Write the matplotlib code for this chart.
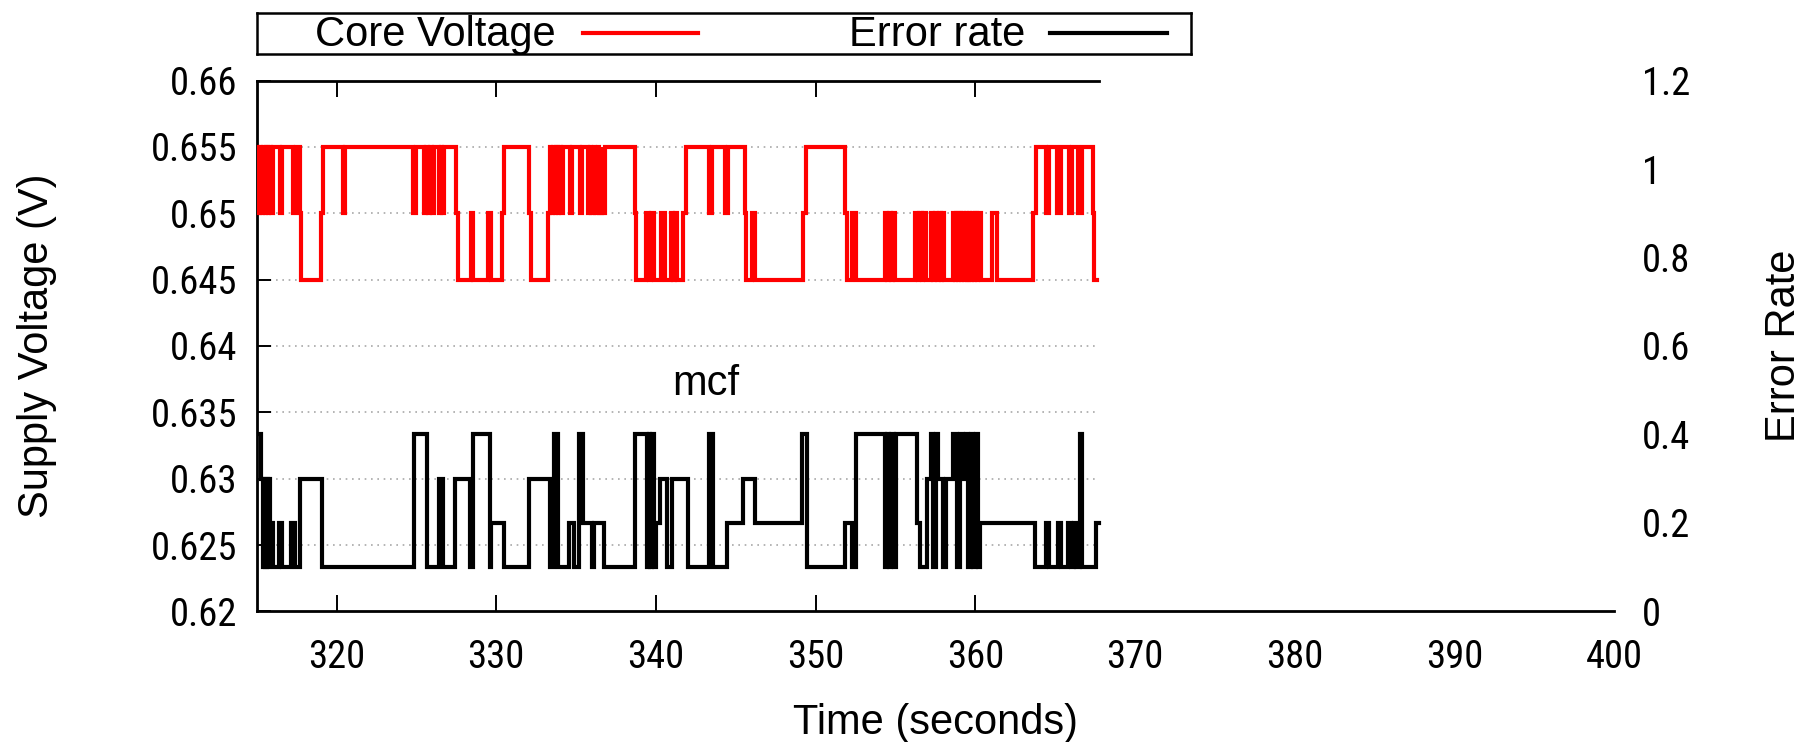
import matplotlib
matplotlib.use("Agg")
import matplotlib.pyplot as plt
from matplotlib import font_manager as fm

# ---------------- data ----------------
volt_t = [315.0, 315.1, 315.2, 315.3, 315.4, 315.5, 315.6, 315.7, 315.8, 315.9,
          316.0, 316.45, 316.6, 317.25, 317.45, 317.7, 317.8, 319.0, 319.15, 320.4,
          320.55, 324.8, 324.95, 325.45, 325.6, 325.7, 325.85, 325.95, 326.1, 326.4,
          326.55, 326.6, 326.7, 327.5, 327.6, 328.4, 328.55, 329.5, 329.65, 330.35,
          330.5, 332.05, 332.15, 333.25, 333.35, 333.45, 333.55, 333.65, 333.75, 333.85,
          333.95, 334.05, 334.2, 334.6, 334.75, 335.25, 335.4, 335.75, 335.85, 335.95,
          336.1, 336.2, 336.35, 336.45, 336.6, 336.65, 336.8, 338.7, 338.75, 339.4,
          339.55, 339.7, 339.9, 340.3, 340.55, 340.95, 341.1, 341.2, 341.35, 341.7,
          341.9, 343.3, 343.5, 344.35, 344.5, 345.55, 345.65, 346.0, 346.2, 349.2,
          349.4, 351.85, 351.95, 352.3, 352.55, 354.35, 354.5, 354.6, 354.75, 354.85,
          355.0, 356.25, 356.4, 356.5, 356.65, 356.75, 356.9, 357.2, 357.35, 357.45,
          357.6, 357.7, 357.85, 357.9, 358.05, 358.6, 358.7, 358.8, 358.9, 359.0,
          359.1, 359.2, 359.3, 359.4, 359.5, 359.6, 359.7, 359.8, 359.9, 360.0,
          360.1, 360.2, 360.35, 361.05, 361.35, 363.6, 363.8, 364.4, 364.6, 365.15,
          365.4, 365.85, 366.05, 366.45, 366.7, 367.35, 367.45, 367.65]
volt_v = [0.655, 0.65, 0.655, 0.65, 0.655, 0.65, 0.655, 0.65, 0.655, 0.65,
          0.655, 0.65, 0.655, 0.65, 0.655, 0.65, 0.645, 0.65, 0.655, 0.65,
          0.655, 0.65, 0.655, 0.65, 0.655, 0.65, 0.655, 0.65, 0.655, 0.65,
          0.655, 0.65, 0.655, 0.65, 0.645, 0.65, 0.645, 0.65, 0.645, 0.65,
          0.655, 0.65, 0.645, 0.65, 0.655, 0.65, 0.655, 0.65, 0.655, 0.65,
          0.655, 0.65, 0.655, 0.65, 0.655, 0.65, 0.655, 0.65, 0.655, 0.65,
          0.655, 0.65, 0.655, 0.65, 0.655, 0.65, 0.655, 0.65, 0.645, 0.65,
          0.645, 0.65, 0.645, 0.65, 0.645, 0.65, 0.645, 0.65, 0.645, 0.65,
          0.655, 0.65, 0.655, 0.65, 0.655, 0.65, 0.645, 0.65, 0.645, 0.65,
          0.655, 0.65, 0.645, 0.65, 0.645, 0.65, 0.645, 0.65, 0.645, 0.65,
          0.645, 0.65, 0.645, 0.65, 0.645, 0.65, 0.645, 0.65, 0.645, 0.65,
          0.645, 0.65, 0.645, 0.65, 0.645, 0.65, 0.645, 0.65, 0.645, 0.65,
          0.645, 0.65, 0.645, 0.65, 0.645, 0.65, 0.645, 0.65, 0.645, 0.65,
          0.645, 0.65, 0.645, 0.65, 0.645, 0.65, 0.655, 0.65, 0.655, 0.65,
          0.655, 0.65, 0.655, 0.65, 0.655, 0.65, 0.645, 0.645]

err_t = [315.0, 315.3, 315.38, 315.46, 315.54, 315.62, 315.7, 315.78, 315.86, 316.05,
         316.4, 316.58, 317.15, 317.4, 317.73, 319.09, 324.83, 325.67, 326.42, 326.68,
         327.43, 328.37, 328.55, 329.58, 329.7, 330.46, 332.03, 333.38, 333.6, 333.85,
         334.53, 334.84, 335.16, 335.46, 335.98, 336.15, 336.72, 338.7, 339.45, 339.55,
         339.65, 339.75, 339.85, 340.0, 340.26, 340.68, 340.99, 342.04, 343.3, 343.58,
         344.43, 345.48, 346.21, 349.13, 349.44, 351.84, 352.26, 352.53, 354.34, 354.5,
         354.62, 354.75, 354.88, 355.03, 356.32, 356.53, 356.95, 357.22, 357.37, 357.53,
         357.68, 357.95, 358.16, 358.62, 358.83, 359.04, 359.25, 359.41, 359.56, 359.71,
         359.87, 360.02, 360.16, 360.29, 363.73, 364.46, 364.62, 365.2, 365.36, 365.83,
         365.98, 366.2, 366.32, 366.56, 366.7, 367.55, 367.75]
err_v = [0.4, 0.3, 0.1, 0.3, 0.1, 0.3, 0.1, 0.3, 0.2, 0.1,
         0.2, 0.1, 0.2, 0.1, 0.3, 0.1, 0.4, 0.1, 0.3, 0.1,
         0.3, 0.1, 0.4, 0.1, 0.2, 0.1, 0.3, 0.1, 0.4, 0.1,
         0.2, 0.1, 0.4, 0.2, 0.1, 0.2, 0.1, 0.4, 0.1, 0.4,
         0.1, 0.4, 0.1, 0.2, 0.3, 0.1, 0.3, 0.1, 0.4, 0.1,
         0.2, 0.3, 0.2, 0.4, 0.1, 0.2, 0.1, 0.4, 0.1, 0.4,
         0.1, 0.4, 0.1, 0.4, 0.2, 0.1, 0.3, 0.4, 0.1, 0.4,
         0.3, 0.1, 0.3, 0.4, 0.1, 0.4, 0.3, 0.4, 0.1, 0.4,
         0.1, 0.4, 0.1, 0.2, 0.1, 0.2, 0.1, 0.2, 0.1, 0.2,
         0.1, 0.2, 0.1, 0.4, 0.1, 0.2, 0.2]

x_ticks = [320, 330, 340, 350, 360, 370, 380, 390, 400]
x_tick_labels = ['320', '330', '340', '350', '360', '370', '380', '390', '400']
v_ticks = [0.62, 0.625, 0.63, 0.635, 0.64, 0.645, 0.65, 0.655, 0.66]
v_tick_labels = ['0.62', '0.625', '0.63', '0.635', '0.64', '0.645', '0.65', '0.655', '0.66']
e_ticks = [0, 0.2, 0.4, 0.6, 0.8, 1.0, 1.2]
e_tick_labels = ['0', '0.2', '0.4', '0.6', '0.8', '1', '1.2']

series_labels = ['Core Voltage', 'Error rate']
annotation = 'mcf'
annotation_pos = (343.1, 0.6371)

# ---------------- fonts ----------------
MAIN_FONT = ['Liberation Sans', 'DejaVu Sans']
plt.rcParams['font.family'] = MAIN_FONT
available = {f.name for f in fm.fontManager.ttflist}
narrow = None
for cand in ['Roboto Condensed', 'Archivo Narrow', 'PT Sans Narrow',
             'Pragati Narrow', 'Encode Sans Condensed', 'IBM Plex Sans Condensed']:
    if cand in available:
        narrow = cand
        break
TICK_FAMILY = [narrow, 'DejaVu Sans'] if narrow else MAIN_FONT

FS_LAB = 30
RED = '#ff0000'
fig = plt.figure(figsize=(18.09, 7.42), dpi=100)

# calibrate tick font size so that "0.655" is ~86 px wide (as in the reference)
renderer = fig.canvas.get_renderer()
probe = fig.text(0, 0, '0.655', family=TICK_FAMILY, fontsize=30)
w = probe.get_window_extent(renderer).width
probe.remove()
FS_TICK = 30 * 86.5 / w
FS_TICK = max(24, min(FS_TICK, 34))

ax = fig.add_axes([0.1419, 0.1759, 0.7503, 0.7156])
ax.set_xlim(315, 400)
ax.set_ylim(0.62, 0.66)
ax2 = ax.twinx()
ax2.set_ylim(0, 1.2)

t_end = max(volt_t[-1], err_t[-1])

# grid (dotted, only across the data span)
ax.hlines(v_ticks[1:-1], ax.get_xlim()[0], t_end, colors='#a8a8a8',
          linestyles=(0, (1.0, 2.8)), lw=1.2, zorder=1)

ax.step(volt_t, volt_v, where='post', color=RED, lw=3.0, zorder=3,
        solid_joinstyle='miter')
ax2.step(err_t, err_v, where='post', color='black', lw=3.0, zorder=3,
         solid_joinstyle='miter')

# spines
ax.spines['right'].set_visible(False)
for s in ax2.spines.values():
    s.set_visible(False)
ax.spines['top'].set_bounds(ax.get_xlim()[0], t_end)
for s in ['left', 'bottom', 'top']:
    ax.spines[s].set_linewidth(2.0)

# ticks
ax.set_xticks(x_ticks)
ax.set_xticklabels(x_tick_labels, fontsize=FS_TICK, family=TICK_FAMILY)
ax.tick_params(axis='x', direction='in', length=11.5, width=1.4, pad=20, top=False)
for tk, pos in zip(ax.xaxis.get_major_ticks(), x_ticks):
    if pos > t_end:
        tk.tick1line.set_visible(False)
sec = ax.secondary_xaxis('top')
sec.set_xticks([p for p in x_ticks if p <= t_end])
sec.tick_params(axis='x', direction='in', length=11.5, width=1.4, labeltop=False)
sec.spines['top'].set_visible(False)

ax.set_yticks(v_ticks)
ax.set_yticklabels(v_tick_labels, fontsize=FS_TICK, family=TICK_FAMILY)
ax.tick_params(axis='y', direction='in', length=10, width=1.4, pad=14, right=False)

ax2.set_yticks(e_ticks)
ax2.set_yticklabels(e_tick_labels, fontsize=FS_TICK, family=TICK_FAMILY)
ax2.tick_params(axis='y', length=0, pad=20)

# axis labels
ax.set_xlabel('Time (seconds)', fontsize=FS_LAB, va='center')
ax.xaxis.set_label_coords(0.5, -0.21)
ax.set_ylabel('Supply Voltage (V)', fontsize=FS_LAB, va='center', ha='center')
ax.yaxis.set_label_coords(-0.1619, 0.5)
ax2.set_ylabel('Error Rate', fontsize=FS_LAB, va='center', ha='center', rotation=90)
ax2.yaxis.set_label_coords(1.1254, 0.5)

ax.text(annotation_pos[0], annotation_pos[1], annotation, fontsize=FS_LAB,
        ha='center', va='center', zorder=4)

# legend box (gnuplot style: text then sample)
lax = fig.add_axes([0.1419, 0.9272, 0.5167, 0.0559])
lax.set_xlim(0, 1)
lax.set_ylim(0, 1)
lax.set_xticks([])
lax.set_yticks([])
for s in lax.spines.values():
    s.set_linewidth(1.8)
lax.text(0.3202, 0.47, series_labels[0], fontsize=FS_LAB, ha='right', va='center')
lax.plot([0.3491, 0.4722], [0.5, 0.5], color=RED, lw=3.0)
lax.text(0.8219, 0.47, series_labels[1], fontsize=FS_LAB, ha='right', va='center')
lax.plot([0.8486, 0.9738], [0.5, 0.5], color='black', lw=3.0)

fig.savefig('out.png', dpi=100)
